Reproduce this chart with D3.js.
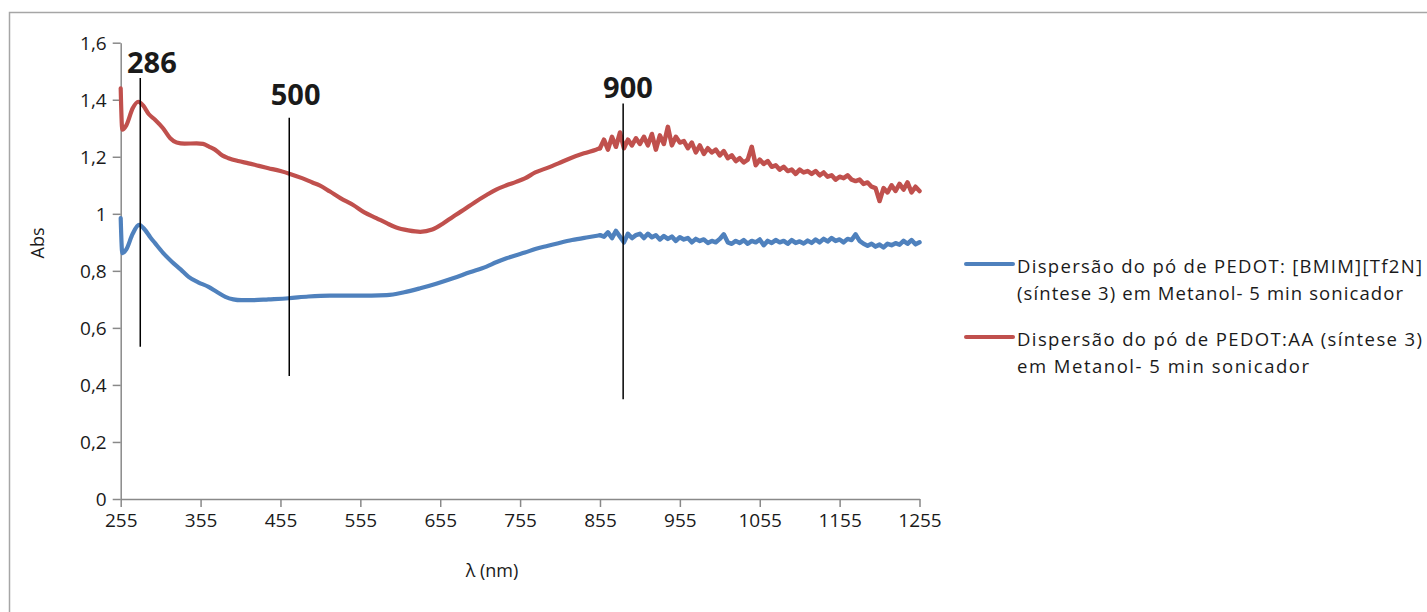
<!DOCTYPE html>
<html>
<head>
<meta charset="utf-8">
<script src="https://cdn.jsdelivr.net/npm/d3@7"></script>
<style>
  html, body { margin: 0; padding: 0; background: #fff; }
  svg { display: block; }
  text { font-family: "Open Sans", "DejaVu Sans", sans-serif; fill: #1a1a1a; }
</style>
</head>
<body>
<svg id="chart" width="1427" height="612"></svg>
<script>
// ---------------- DATA ----------------
const seriesNames = [
  ["Dispersão do pó de PEDOT: [BMIM][Tf2N]", "(síntese 3) em Metanol- 5 min sonicador"],
  ["Dispersão do pó de PEDOT:AA (síntese 3)", "em Metanol- 5 min sonicador"]
];
const seriesColors = ["#4F81BD", "#C0504D"];

const xTicks = [255, 355, 455, 555, 655, 755, 855, 955, 1055, 1155, 1255];
const yTicks = [0, 0.2, 0.4, 0.6, 0.8, 1, 1.2, 1.4, 1.6];
const yTickLabels = ["0", "0,2", "0,4", "0,6", "0,8", "1", "1,2", "1,4", "1,6"];

// Blue: PEDOT:[BMIM][Tf2N]  [wavelength nm, Abs]
const bmimSmooth = [
  [255,0.985],[257,0.862],[262,0.875],[270,0.93],[278,0.961],[285,0.945],[292,0.918],
  [298,0.897],[308,0.863],[319,0.832],[330,0.805],[340,0.779],[352,0.76],[365,0.744],
  [376,0.725],[386,0.709],[396,0.700],[406,0.697],[420,0.697],[440,0.70],[465,0.704],
  [490,0.71],[517,0.713],[550,0.713],[588,0.715],[610,0.725],[630,0.739],[650,0.755],
  [671,0.774],[692,0.795],[713,0.815],[725,0.83],[738,0.844],[750,0.855],[761,0.864],
  [774,0.877],[790,0.888],[803,0.897],[820,0.908],[840,0.918],[855,0.925]
];
const bmimNoisy = [
  [855,0.925],
  [860,0.92],[865,0.935],[870,0.915],[875,0.94],[880,0.92],[885,0.9],[890,0.93],[895,0.915],
  [900,0.925],[905,0.93],[910,0.915],[915,0.93],[920,0.918],[925,0.925],[930,0.91],[935,0.922],
  [940,0.912],[945,0.92],[950,0.905],[955,0.918],[960,0.91],[965,0.915],[970,0.9],[975,0.912],
  [980,0.905],[985,0.91],[990,0.898],[995,0.905],[1000,0.9],[1005,0.912],[1010,0.928],[1015,0.9],
  [1020,0.895],[1025,0.905],[1030,0.898],[1035,0.908],[1040,0.895],[1045,0.905],[1050,0.9],
  [1055,0.91],[1060,0.89],[1065,0.905],[1070,0.898],[1075,0.908],[1080,0.9],[1085,0.905],
  [1090,0.895],[1095,0.908],[1100,0.898],[1105,0.903],[1110,0.896],[1115,0.906],[1120,0.898],
  [1125,0.91],[1130,0.9],[1135,0.912],[1140,0.903],[1145,0.915],[1150,0.905],[1155,0.91],
  [1160,0.9],[1165,0.912],[1170,0.908],[1175,0.928],[1180,0.905],[1185,0.895],[1190,0.888],
  [1195,0.895],[1200,0.885],[1205,0.892],[1210,0.882],[1215,0.895],[1220,0.89],[1225,0.897],
  [1230,0.892],[1235,0.905],[1240,0.895],[1245,0.908],[1250,0.893],[1255,0.9]
];

// Red: PEDOT:AA
const aaSmooth = [
  [255,1.44],[257,1.295],[262,1.31],[270,1.37],[277,1.393],[283,1.38],[290,1.35],[298,1.33],
  [308,1.30],[317,1.265],[325,1.25],[335,1.246],[350,1.247],[358,1.245],[366,1.235],[373,1.225],
  [382,1.205],[390,1.195],[402,1.185],[415,1.177],[428,1.168],[440,1.16],[455,1.15],[467,1.14],
  [482,1.125],[495,1.11],[504,1.10],[517,1.078],[530,1.055],[546,1.031],[560,1.005],[575,0.985],
  [588,0.967],[600,0.952],[615,0.942],[630,0.937],[645,0.945],[659,0.967],[671,0.99],[684,1.013],
  [698,1.04],[713,1.066],[725,1.085],[738,1.10],[750,1.112],[761,1.124],[774,1.145],[790,1.162],
  [803,1.177],[818,1.195],[835,1.212],[850,1.225],[855,1.23]
];
const aaNoisy = [
  [855,1.23],
  [860,1.26],[865,1.225],[870,1.27],[875,1.235],[880,1.285],[885,1.23],[890,1.26],[895,1.24],
  [900,1.265],[905,1.245],[910,1.27],[915,1.24],[920,1.28],[925,1.225],[930,1.275],[935,1.245],
  [940,1.305],[945,1.24],[950,1.27],[955,1.25],[960,1.255],[965,1.23],[970,1.25],[975,1.215],
  [980,1.24],[985,1.21],[990,1.23],[995,1.215],[1000,1.225],[1005,1.205],[1010,1.22],[1015,1.195],
  [1020,1.205],[1025,1.185],[1030,1.195],[1035,1.18],[1040,1.19],[1045,1.235],[1050,1.17],
  [1055,1.19],[1060,1.175],[1065,1.185],[1070,1.165],[1075,1.17],[1080,1.155],[1085,1.165],
  [1090,1.15],[1095,1.155],[1100,1.14],[1105,1.155],[1110,1.145],[1115,1.15],[1120,1.14],
  [1125,1.15],[1130,1.135],[1135,1.145],[1140,1.13],[1145,1.135],[1150,1.12],[1155,1.13],
  [1160,1.125],[1165,1.135],[1170,1.12],[1175,1.115],[1180,1.12],[1185,1.105],[1190,1.11],
  [1195,1.095],[1200,1.09],[1205,1.045],[1210,1.09],[1215,1.075],[1220,1.10],[1225,1.08],
  [1230,1.105],[1235,1.085],[1240,1.11],[1245,1.075],[1250,1.095],[1255,1.08]
];

// Annotations (drawn marker lines with labels), in data units
const annotLabels = ["286", "500", "900"];
const annotLineNm = [279.5, 466, 884];
const annotLineTop = [1.476, 1.337, 1.387];
const annotLineBottom = [0.534, 0.431, 0.35];
const annotLabelNm = [294, 474, 890];
const annotLabelAbs = [1.494, 1.381, 1.407];

// ---------------- DRAW ----------------
const svg = d3.select("#chart");

// outer chart border
svg.append("rect")
  .attr("x", 9.5).attr("y", 12.5)
  .attr("width", 1500).attr("height", 700)
  .attr("fill", "none").attr("stroke", "#a6a6a6").attr("stroke-width", 1.5);

const x = d3.scaleLinear().domain([255, 1255]).range([120.7, 919.5]);
const y = d3.scaleLinear().domain([0, 1.6]).range([499, 42.7]);

// axes
const yAxis = d3.axisLeft(y).tickValues(yTicks)
  .tickFormat((d, i) => yTickLabels[i]).tickSize(8).tickPadding(6).tickSizeOuter(0);
const xAxis = d3.axisBottom(x).tickValues(xTicks)
  .tickFormat(d => String(d)).tickSize(8).tickPadding(7).tickSizeOuter(0);

const gy = svg.append("g").attr("transform", `translate(${x(255)},0)`).call(yAxis);
const gx = svg.append("g").attr("transform", `translate(0,${y(0)})`).call(xAxis);
[gx, gy].forEach(g => {
  g.select(".domain").attr("stroke", "#898989").attr("stroke-width", 1.5);
  g.selectAll(".tick line").attr("stroke", "#898989").attr("stroke-width", 1.5);
  g.selectAll(".tick text")
    .attr("font-family", '"Open Sans", sans-serif')
    .attr("font-size", 19).attr("fill", "#1a1a1a");
});
gy.selectAll(".tick text").attr("dy", "0.34em");

// axis titles
svg.append("text")
  .attr("transform", `translate(44,243) rotate(-90)`)
  .attr("text-anchor", "middle")
  .attr("font-size", 18)
  .text("Abs");
svg.append("text")
  .attr("x", 492).attr("y", 577)
  .attr("text-anchor", "middle")
  .attr("font-size", 18)
  .text("λ (nm)");

// series lines: smooth part (monotone) + noisy part (linear, jagged)
const smoothLine = d3.line()
  .x(d => x(d[0])).y(d => y(d[1]))
  .curve(d3.curveMonotoneX);
const noisyLine = d3.line()
  .x(d => x(d[0])).y(d => y(d[1]))
  .curve(d3.curveLinear);

const smoothParts = [bmimSmooth, aaSmooth];
const noisyParts = [bmimNoisy, aaNoisy];
smoothParts.forEach((s, i) => {
  svg.append("path")
    .datum(s)
    .attr("d", smoothLine)
    .attr("fill", "none")
    .attr("stroke", seriesColors[i])
    .attr("stroke-width", 4.2)
    .attr("stroke-linejoin", "round")
    .attr("stroke-linecap", "round");
  svg.append("path")
    .datum(noisyParts[i])
    .attr("d", noisyLine)
    .attr("fill", "none")
    .attr("stroke", seriesColors[i])
    .attr("stroke-width", 4.5)
    .attr("stroke-linejoin", "round")
    .attr("stroke-linecap", "round");
});

// annotation lines & labels
annotLabels.forEach((lab, i) => {
  svg.append("line")
    .attr("x1", x(annotLineNm[i])).attr("x2", x(annotLineNm[i]))
    .attr("y1", y(annotLineTop[i])).attr("y2", y(annotLineBottom[i]))
    .attr("stroke", "#000").attr("stroke-width", 1.5);
  svg.append("text")
    .attr("x", x(annotLabelNm[i])).attr("y", y(annotLabelAbs[i]))
    .attr("text-anchor", "middle")
    .attr("font-size", 29).attr("font-weight", "bold")
    .attr("fill", "#000")
    .text(lab);
});

// legend
const legendY = [264, 337];
const legendLineWidths = [[405, 386], [405, 292]];
seriesNames.forEach((lines, i) => {
  svg.append("line")
    .attr("x1", 966).attr("x2", 1013)
    .attr("y1", legendY[i]).attr("y2", legendY[i])
    .attr("stroke", seriesColors[i]).attr("stroke-width", 4)
    .attr("stroke-linecap", "round");
  lines.forEach((t, j) => {
    svg.append("text")
      .attr("x", 1017)
      .attr("y", legendY[i] + 8.5 + j * 27)
      .attr("font-size", 18.5)
      .attr("textLength", legendLineWidths[i][j])
      .attr("lengthAdjust", "spacing")
      .text(t);
  });
});
</script>
</body>
</html>
